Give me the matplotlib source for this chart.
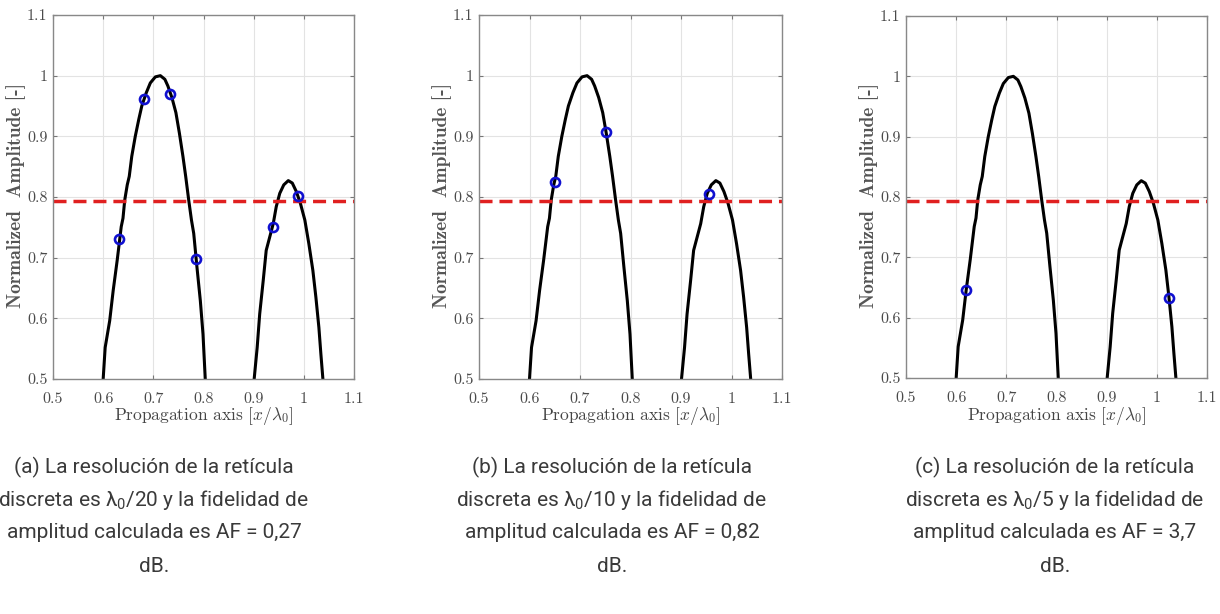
import matplotlib
matplotlib.use("Agg")
import matplotlib.pyplot as plt

# ---- data ----
main_x = [0.600, 0.604, 0.613, 0.620, 0.628, 0.636, 0.6395, 0.643, 0.648, 0.652,
          0.657, 0.664, 0.671, 0.677, 0.686, 0.694, 0.704, 0.714, 0.723, 0.729,
          0.737, 0.745, 0.752, 0.759, 0.7645, 0.7705, 0.776, 0.7805, 0.787, 0.7937,
          0.799, 0.8035]
main_y = [0.500, 0.552, 0.596, 0.646, 0.696, 0.751, 0.765, 0.795, 0.820, 0.834,
          0.867, 0.900, 0.928, 0.950, 0.972, 0.988, 0.998, 1.000, 0.994, 0.983,
          0.964, 0.939, 0.905, 0.867, 0.834, 0.795, 0.762, 0.740, 0.684, 0.629,
          0.574, 0.500]
side_x = [0.901, 0.907, 0.912, 0.919, 0.925, 0.932, 0.939, 0.945, 0.952, 0.960,
          0.969, 0.977, 0.985, 0.993, 1.002, 1.010, 1.018, 1.024, 1.030, 1.034,
          1.038]
side_y = [0.500, 0.552, 0.607, 0.662, 0.712, 0.734, 0.756, 0.784, 0.806, 0.820,
          0.827, 0.823, 0.809, 0.790, 0.762, 0.723, 0.679, 0.635, 0.585, 0.541,
          0.500]
threshold = 0.794

samples_a_x = [0.632, 0.682, 0.734, 0.786, 0.938, 0.989]
samples_a_y = [0.730, 0.961, 0.970, 0.697, 0.751, 0.802]
samples_b_x = [0.651, 0.752, 0.955]
samples_b_y = [0.825, 0.907, 0.805]
samples_c_x = [0.620, 1.024]
samples_c_y = [0.646, 0.633]

xticks = [0.5, 0.6, 0.7, 0.8, 0.9, 1.0, 1.1]
xticklabels = ["0.5", "0.6", "0.7", "0.8", "0.9", "1", "1.1"]
yticks = [0.5, 0.6, 0.7, 0.8, 0.9, 1.0, 1.1]
yticklabels = ["0.5", "0.6", "0.7", "0.8", "0.9", "1", "1.1"]

captions = [
    ["(a) La resolución de la retícula",
     "discreta es λ$_0$/20 y la fidelidad de",
     "amplitud calculada es AF = 0,27",
     "dB."],
    ["(b) La resolución de la retícula",
     "discreta es λ$_0$/10 y la fidelidad de",
     "amplitud calculada es AF = 0,82",
     "dB."],
    ["(c) La resolución de la retícula",
     "discreta es λ$_0$/5 y la fidelidad de",
     "amplitud calculada es AF = 3,7",
     "dB."],
]

samples = [(samples_a_x, samples_a_y), (samples_b_x, samples_b_y), (samples_c_x, samples_c_y)]

plt.rcParams["mathtext.rm"] = "Roboto"
plt.rcParams["mathtext.it"] = "Roboto:style=italic"
plt.rcParams["mathtext.bf"] = "Roboto:weight=bold"

W, H = 1220, 614
fig = plt.figure(figsize=(W / 100, H / 100), dpi=100)
fig.patch.set_facecolor("white")

# axes pixel boxes (left, top, right, bottom)
boxes = [(53, 15, 354, 379), (479, 15, 782, 379), (906, 16, 1207, 378)]
cap_centers = [154, 612, 1055]
cap_lines_y = [467, 500, 533, 566]

tick_col = "#4a4a4a"
for i, (l, t, r, b) in enumerate(boxes):
    ax = fig.add_axes([l / W, (H - b) / H, (r - l) / W, (b - t) / H])
    ax.set_xlim(0.5, 1.1)
    ax.set_ylim(0.5, 1.1)
    ax.grid(True, color="#e3e3e3", linewidth=0.8)
    ax.set_axisbelow(True)
    ax.plot(main_x, main_y, color="black", linewidth=2.2, solid_joinstyle="round")
    ax.plot(side_x, side_y, color="black", linewidth=2.2, solid_joinstyle="round")
    ax.axhline(threshold, color="#e02020", linewidth=2.5, dashes=(3.75, 2.0))
    sx, sy = samples[i]
    ax.plot(sx, sy, linestyle="none", marker="o", markersize=6.5,
            markerfacecolor="none", markeredgecolor="#1010d0", markeredgewidth=1.9)
    ax.set_xticks(xticks)
    ax.set_xticklabels(xticklabels, fontfamily="cmr10", fontsize=11.5, color=tick_col)
    ax.set_yticks(yticks)
    ax.set_yticklabels(yticklabels, fontfamily="cmr10", fontsize=11.5, color=tick_col)
    ax.tick_params(direction="in", length=3, width=0.8, color="#777777",
                   top=True, right=True)
    ax.tick_params(axis="x", pad=9.5)
    ax.tick_params(axis="y", pad=4)
    for sp in ax.spines.values():
        sp.set_color("#888888")
        sp.set_linewidth(1.0)
    pw = r - l
    ph = b - t
    ax.set_xlabel(r"Propagation axis $[x/\lambda_0]$", fontfamily="cmr10",
                  fontsize=12.5, color="#444444", math_fontfamily="cm")
    ax.xaxis.set_label_coords(0.5, (b - 416) / ph)
    ax.xaxis.label.set_va("center")
    ax.set_ylabel(r"Normalized  Amplitude [-]", fontfamily="cmb10",
                  fontsize=14, color="#555555")
    ax.yaxis.set_label_coords(-37 / pw, (b - 195) / ph)
    ax.yaxis.label.set_va("center")
    for j, line in enumerate(captions[i]):
        fig.text(cap_centers[i] / W, (H - cap_lines_y[j]) / H, line,
                 ha="center", va="center", fontsize=15, color="#3a3a3a",
                 fontfamily="Roboto", fontweight="normal", math_fontfamily="custom")

fig.savefig("out.png", dpi=100, facecolor="white")
